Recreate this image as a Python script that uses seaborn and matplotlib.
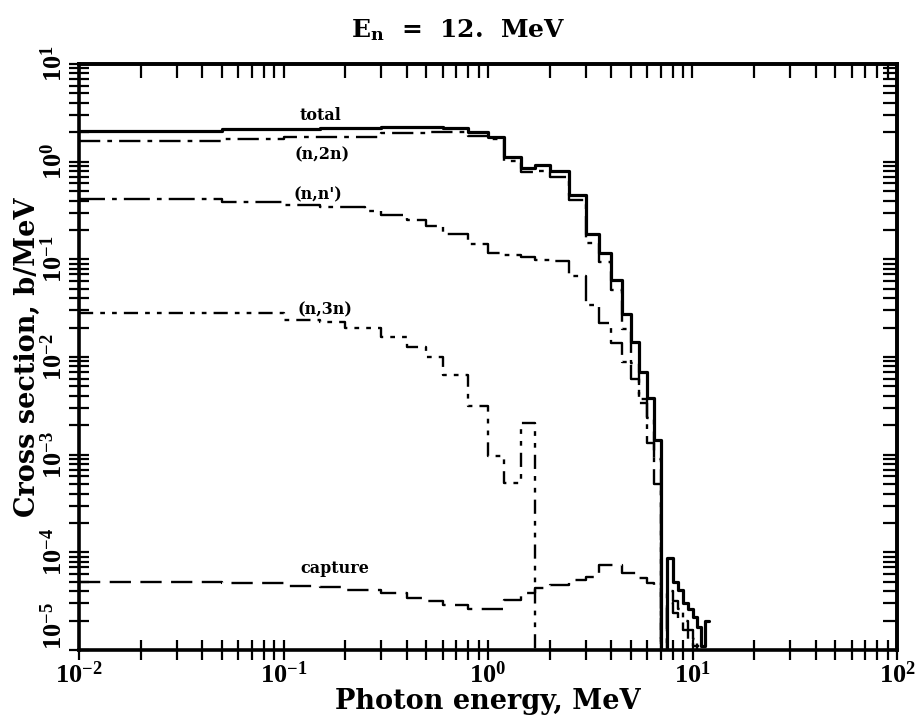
import numpy as np
import pandas as pd
import matplotlib
matplotlib.use("Agg")
import matplotlib.pyplot as plt
import seaborn as sns
from matplotlib.ticker import LogLocator, NullFormatter

# ---------------- data ----------------
OFF = 1e-9  # value below the plotted range (curve drops off the axis)

energy_edges = [0.01, 0.05, 0.1, 0.15, 0.2, 0.25, 0.3, 0.4, 0.5, 0.6, 0.8,
                1.0, 1.2, 1.45, 1.7, 2.0, 2.5, 3.0, 3.5, 4.0, 4.5, 5.0, 5.5,
                6.0, 6.5, 7.0, 7.5, 8.0, 8.5, 9.0, 9.5, 10.0, 10.5, 11.0,
                11.5, 12.0]

total = [2.08, 2.15, 2.18, 2.2, 2.2, 2.22, 2.26, 2.28, 2.28, 2.2, 2.0,
         1.8, 1.12, 0.855, 0.925, 0.80, 0.456, 0.181, 0.115, 0.0615, 0.0276,
         0.0141, 0.0071, 0.0038, 0.00142, OFF, 8.7e-5, 5.0e-5, 4.1e-5,
         3.0e-5, 2.6e-5, 2.2e-5, 1.74e-5, 1.09e-5, 2.0e-5]

n2n = [1.64, 1.70, 1.78, 1.78, 1.78, 1.78, 1.95, 1.98, 2.03, 2.03, 1.85,
       1.69, 1.02, 0.78, 0.80, 0.70, 0.405, 0.146, 0.095, 0.0486, 0.0195,
       0.0087, 0.0034, 0.00132, 5.0e-4, OFF, OFF, OFF, OFF, OFF, OFF, OFF,
       OFF, OFF, OFF]

nn_prime = [0.412, 0.39, 0.36, 0.347, 0.34, 0.31, 0.284, 0.253, 0.22, 0.182,
            0.145, 0.115, 0.11, 0.105, 0.098, 0.096, 0.067, 0.034, 0.0222,
            0.0138, 0.0089, 0.0059, 0.0037, 0.0024, 9.0e-4, OFF, 4.0e-5,
            3.2e-5, 2.6e-5, 2.0e-5, 1.6e-5, 1.3e-5, 1.1e-5, OFF, OFF]

n3n = [0.0285, 0.028, 0.024, 0.0226, 0.0197, 0.0197, 0.016, 0.0128, 0.00995,
       0.00656, 0.00318, 9.6e-4, 5.1e-4, 2.13e-3, OFF, OFF, OFF, OFF, OFF,
       OFF, OFF, OFF, OFF, OFF, OFF, OFF, OFF, OFF, OFF, OFF, OFF, OFF, OFF,
       OFF, OFF]

capture = [5.0e-5, 4.83e-5, 4.57e-5, 4.4e-5, 4.13e-5, 4.13e-5, 3.82e-5,
           3.4e-5, 3.2e-5, 2.86e-5, 2.64e-5, 2.64e-5, 3.26e-5, 3.82e-5,
           4.3e-5, 4.65e-5, 5.2e-5, 5.65e-5, 7.45e-5, 7.45e-5, 6.2e-5, 6.1e-5,
           5.45e-5, 4.9e-5, 4.3e-5, OFF, 3.0e-5, 2.4e-5, 2.0e-5, 1.6e-5,
           1.3e-5, 1.1e-5, OFF, OFF, OFF]

x_tick_values = [1e-2, 1e-1, 1e0, 1e1, 1e2]
y_tick_values = [1e-5, 1e-4, 1e-3, 1e-2, 1e-1, 1e0, 1e1]
x_tick_labels = [r"$\mathdefault{10^{-2}}$", r"$\mathdefault{10^{-1}}$",
                 r"$\mathdefault{10^{0}}$", r"$\mathdefault{10^{1}}$",
                 r"$\mathdefault{10^{2}}$"]
y_tick_labels = [r"$\mathdefault{10^{-5}}$", r"$\mathdefault{10^{-4}}$",
                 r"$\mathdefault{10^{-3}}$", r"$\mathdefault{10^{-2}}$",
                 r"$\mathdefault{10^{-1}}$", r"$\mathdefault{10^{0}}$",
                 r"$\mathdefault{10^{1}}$"]

series_names = ["total", "(n,2n)", "(n,n')", "(n,3n)", "capture"]
series_values = [total, n2n, nn_prime, n3n, capture]

# ---------------- figure ----------------
sns.set_theme(style="white")
plt.rcParams["font.family"] = ["DejaVu Serif"]
plt.rcParams["mathtext.fontset"] = "dejavuserif"
for key in ["text.color", "axes.labelcolor", "xtick.color", "ytick.color",
            "axes.edgecolor"]:
    plt.rcParams[key] = "black"

fig = plt.figure(figsize=(9.16, 7.2), dpi=100)
ax = fig.add_axes([79 / 916, 70 / 720, (897 - 79) / 916, (650 - 64) / 720])
ax.set_xscale("log")
ax.set_yscale("log")

styles = {
    "total": dict(linestyle="-", linewidth=2.3),
    "(n,2n)": dict(linestyle=(0, (9, 3, 2, 3)), linewidth=1.7),
    "(n,n')": dict(linestyle=(0, (11, 3, 2, 3)), linewidth=1.7),
    "(n,3n)": dict(linestyle=(0, (6, 3, 2, 3, 2, 3)), linewidth=1.7),
    "capture": dict(linestyle=(0, (9, 4)), linewidth=1.7),
}

for name, vals in zip(series_names, series_values):
    xs = energy_edges
    ys = list(vals) + [vals[-1]]
    df = pd.DataFrame({"energy": xs, "xs": ys})
    sns.lineplot(data=df, x="energy", y="xs", ax=ax, color="black",
                 estimator=None, sort=False, drawstyle="steps-post",
                 **styles[name])

ax.set_xlim(1e-2, 1e2)
ax.set_ylim(1e-5, 1e1)

# ticks
ax.xaxis.set_minor_locator(LogLocator(base=10, subs=np.arange(2, 10), numticks=20))
ax.yaxis.set_minor_locator(LogLocator(base=10, subs=np.arange(2, 10), numticks=20))
ax.set_xticks(x_tick_values)
ax.set_xticklabels(x_tick_labels)
ax.set_yticks(y_tick_values)
ax.set_yticklabels(y_tick_labels, rotation=90, va="center")
ax.xaxis.set_minor_formatter(NullFormatter())
ax.yaxis.set_minor_formatter(NullFormatter())
ax.tick_params(which="both", direction="inout", length=15, width=1.6,
               color="black", bottom=True, left=True, top=False, right=False)
ax.tick_params(axis="both", which="major", labelsize=19, pad=1)
for lab in ax.get_xticklabels() + ax.get_yticklabels():
    lab.set_fontweight("bold")
    lab.set_fontfamily(["Liberation Serif", "DejaVu Serif"])
ax.get_yticklabels()[0].set_va("bottom")

for sp in ax.spines.values():
    sp.set_linewidth(2.6)
    sp.set_color("black")

secx = ax.secondary_xaxis("top")
secx.xaxis.set_major_locator(LogLocator(base=10, numticks=20))
secx.xaxis.set_minor_locator(LogLocator(base=10, subs=np.arange(2, 10), numticks=20))
secx.tick_params(which="both", direction="in", length=10, width=1.6,
                 labeltop=False, color="black")
secx.xaxis.set_major_formatter(NullFormatter())
secx.xaxis.set_minor_formatter(NullFormatter())
secx.spines["top"].set_linewidth(2.6)

secy = ax.secondary_yaxis("right")
secy.yaxis.set_major_locator(LogLocator(base=10, numticks=20))
secy.yaxis.set_minor_locator(LogLocator(base=10, subs=np.arange(2, 10), numticks=20))
secy.tick_params(which="both", direction="in", length=10, width=1.6,
                 labelright=False, color="black")
secy.yaxis.set_major_formatter(NullFormatter())
secy.yaxis.set_minor_formatter(NullFormatter())
secy.spines["right"].set_linewidth(2.6)

ax.set_xlabel("Photon energy, MeV", fontsize=19.5, fontweight="bold",
              labelpad=0)
ax.set_ylabel("Cross section, b/MeV", fontsize=19.5, fontweight="bold",
              labelpad=0)

fig.text(0.5, 0.958, r"E$_\mathdefault{n}$  =  12.  MeV", ha="center",
         va="center", fontsize=18, fontweight="bold")

# curve labels
lab_kw = dict(ha="center", va="center", fontsize=11.5, fontweight="bold")
ax.text(0.151, 3.0, "total", **lab_kw)
ax.text(0.154, 1.17, "(n,2n)", **lab_kw)
ax.text(0.147, 0.456, "(n,n')", **lab_kw)
ax.text(0.159, 0.0303, "(n,3n)", **lab_kw)
ax.text(0.179, 6.8e-5, "capture", **lab_kw)

fig.savefig("out.png", dpi=100)
